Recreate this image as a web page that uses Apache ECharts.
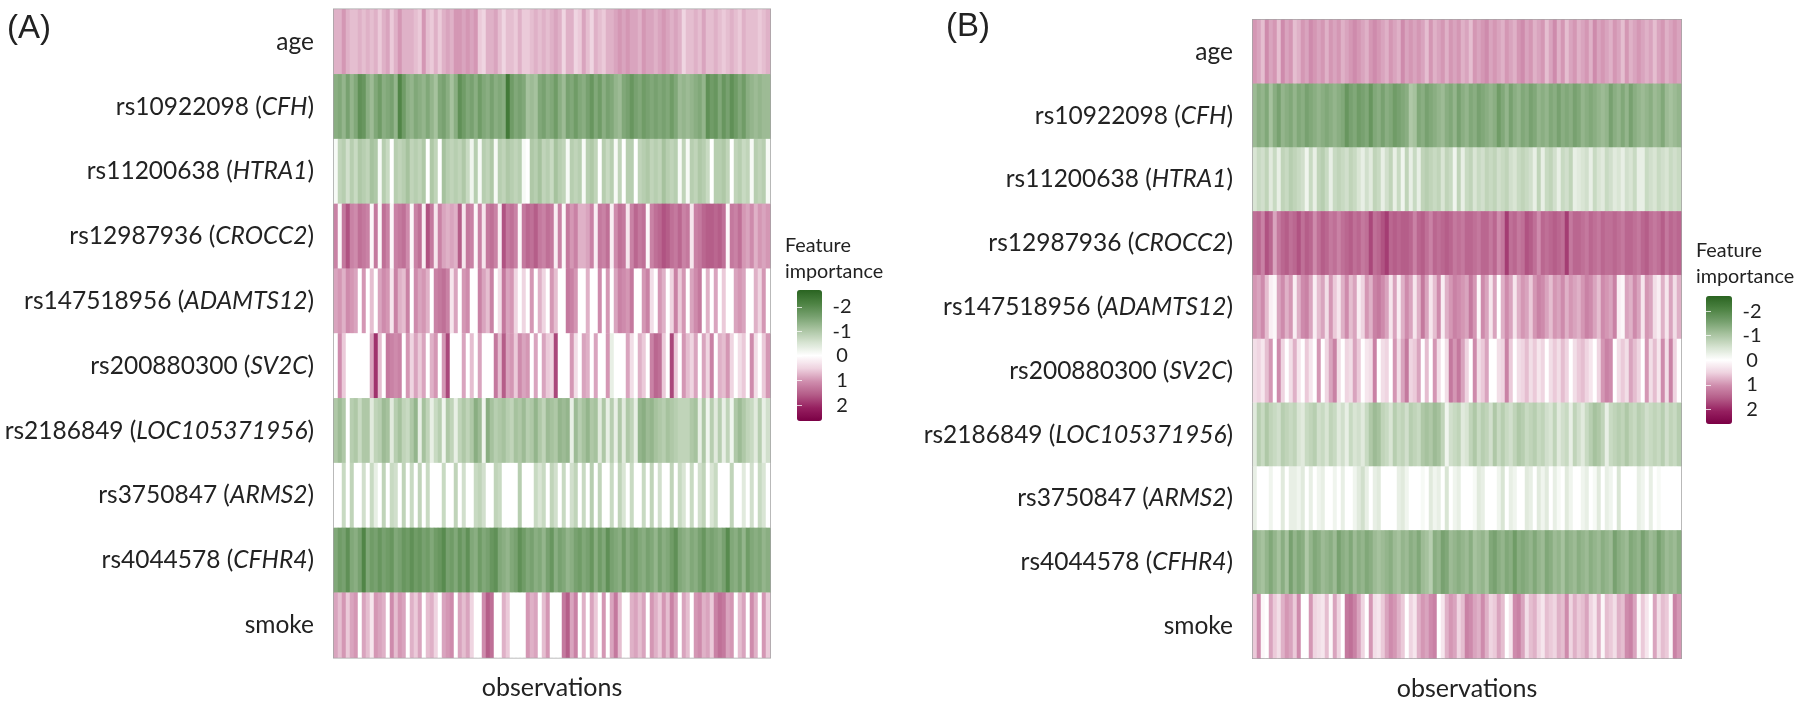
<!DOCTYPE html>
<html><head><meta charset="utf-8">
<style>html,body{margin:0;padding:0;background:#fff}#c{width:1800px;height:705px}</style>
<script src="https://cdn.jsdelivr.net/npm/echarts@6/dist/echarts.min.js"></script>
</head><body><div id="c"></div>
<script>
const features = ['age','rs10922098 (CFH)','rs11200638 (HTRA1)','rs12987936 (CROCC2)','rs147518956 (ADAMTS12)','rs200880300 (SV2C)','rs2186849 (LOC105371956)','rs3750847 (ARMS2)','rs4044578 (CFHR4)','smoke'];
const legendTicks = [-2,-1,0,1,2];
// values are feature importance x 10, one entry per observation column
const A_age = [8,8,10,8,7,7,8,7,8,7,8,6,8,9,6,8,10,8,8,8,7,6,10,7,6,8,6,8,9,8,10,10,9,10,9,10,6,5,8,8,9,7,5,7,7,6,8,6,6,7,8,7,8,7,8,9,8,5,8,8,5,6,9,7,5,8,7,6,8,8,9,10,9,10,9,9,8,10,9,9,8,9,10,9,8,9,8,5,7,7,8,7,9,7,7,8,7,6,7,8,7,6,8,7,7,7,6,7,8];
const A_CFH = [-14,-15,-13,-16,-13,-15,-19,-18,-14,-12,-15,-17,-14,-15,-16,-13,-21,-17,-14,-13,-15,-14,-13,-15,-13,-11,-15,-16,-14,-11,-14,-19,-17,-15,-16,-14,-17,-15,-14,-16,-14,-15,-14,-23,-17,-15,-16,-15,-11,-12,-11,-15,-16,-14,-15,-17,-14,-12,-16,-15,-17,-15,-14,-16,-18,-15,-17,-14,-16,-15,-13,-12,-15,-16,-18,-16,-15,-17,-16,-15,-16,-15,-16,-15,-17,-15,-12,-13,-12,-13,-14,-15,-13,-19,-17,-18,-15,-18,-16,-19,-17,-15,-17,-14,-13,-12,-13,-12,-12];
const A_HTRA1 = [-1,-8,-9,-6,-9,-7,-10,-9,-8,-11,-10,-1,-9,-7,0,-9,-8,-9,-11,-8,-9,-8,-10,0,-10,-8,0,-11,-9,-8,-9,-8,-10,-7,-2,-9,-1,-9,-8,-10,-1,-9,-8,-10,-9,-8,-9,-1,0,-10,-9,-11,-8,-9,-7,-11,-9,-8,-1,-9,-8,-9,-1,-9,-10,-8,0,-9,-7,-9,-1,-8,0,-9,-9,0,-8,-9,-10,-8,-9,-8,-11,-9,-8,-9,-1,-8,-1,-9,-8,-10,-9,-7,0,-9,-9,-10,-8,0,-8,-9,-7,-8,-1,-9,-8,-9,-1];
const A_CROCC2 = [12,1,13,17,12,11,14,13,12,1,13,1,14,12,1,12,13,14,11,1,12,14,2,17,13,3,12,9,8,9,8,16,3,13,12,1,12,3,13,14,12,2,17,13,14,12,1,13,15,14,16,13,12,14,13,2,12,1,13,10,12,8,8,9,12,2,13,12,14,2,11,14,13,3,12,15,13,14,1,12,14,15,17,16,14,13,15,12,13,3,12,13,15,16,16,15,16,14,1,13,12,14,10,9,11,8,10,9,10];
const A_ADAMTS12 = [9,10,8,11,10,9,0,10,0,7,0,9,11,10,3,12,8,7,12,0,11,9,10,8,0,12,13,14,12,3,9,0,10,11,0,0,12,9,7,12,0,4,13,9,10,5,0,5,0,10,0,8,5,0,10,7,0,0,13,12,10,0,0,8,0,0,11,0,10,0,9,12,11,10,13,0,0,10,12,4,0,10,8,0,5,12,6,10,0,9,11,13,0,8,0,9,0,6,0,0,9,10,9,0,0,8,5,10,0];
const A_SV2C = [0,11,6,0,0,0,0,0,0,9,20,7,0,13,12,11,12,0,10,5,9,6,9,0,8,10,0,10,18,0,0,0,9,0,7,0,9,0,0,0,13,7,16,9,10,6,11,9,10,0,9,0,9,6,5,18,0,0,0,10,4,0,9,8,0,9,0,0,10,-3,0,0,0,9,4,0,8,6,0,12,15,14,6,0,18,6,0,10,7,5,9,0,9,5,12,0,8,7,10,5,0,4,6,0,11,4,0,6,10];
const A_LOC = [-10,-12,-10,0,-9,-10,-7,-10,-10,-4,-8,-9,-12,-11,-4,-9,-11,-8,-7,-10,-13,-3,-11,-8,-3,-7,-9,-2,-10,-8,-3,-8,-10,-8,-10,-14,-12,-2,-14,-11,-9,-10,-11,-9,-8,-11,-10,-12,-9,-10,-13,-10,-8,-12,-11,-10,-13,-12,-13,-3,-12,-9,-11,-13,-10,-11,-4,-10,-3,-9,-3,-10,-4,-10,-8,-3,-13,-14,-12,-13,-11,-10,-9,-11,-10,-9,-8,-8,-8,-10,-11,-3,-10,-2,-9,-4,-9,-3,-8,-2,-10,-12,-10,-8,-7,-4,-9,-3,-6];
const A_ARMS2 = [0,0,-7,0,-8,0,0,-6,0,-7,-3,0,-8,0,-7,-6,0,-8,0,-7,0,-8,0,-7,0,0,0,-7,0,0,-8,0,-6,0,0,-7,-8,-6,0,0,-8,-7,0,0,0,0,-9,0,0,0,-7,-5,-7,0,-8,-6,0,-7,0,-6,-8,0,-7,0,-9,0,-8,0,0,-7,0,-8,-5,0,-7,0,0,-7,0,-8,0,-6,0,0,-8,0,-7,-5,0,-7,0,-6,-8,0,-5,-7,0,0,0,-8,0,0,-4,0,-6,0,-7,-5,0];
const A_CFHR4 = [-15,-17,-16,-19,-15,-14,-16,-21,-15,-17,-16,-18,-16,-17,-18,-15,-16,-18,-17,-19,-17,-18,-16,-17,-15,-17,-18,-20,-16,-17,-15,-18,-16,-19,-15,-14,-17,-15,-16,-18,-19,-15,-14,-13,-15,-16,-19,-17,-15,-16,-14,-15,-13,-16,-18,-14,-16,-15,-13,-14,-16,-17,-15,-16,-18,-14,-17,-15,-19,-16,-15,-14,-17,-14,-16,-17,-15,-14,-16,-15,-13,-16,-14,-15,-17,-19,-15,-14,-13,-15,-14,-16,-18,-15,-16,-15,-14,-16,-20,-15,-14,-16,-13,-17,-15,-14,-15,-13,-14];
const A_smoke = [9,7,10,6,9,10,0,9,7,3,10,9,8,0,11,7,10,9,0,8,6,9,0,7,8,5,0,9,10,11,0,9,7,9,5,0,0,11,16,14,0,0,8,6,0,0,0,0,10,8,9,0,7,10,0,0,0,13,16,9,12,0,8,0,9,6,0,10,0,9,13,7,0,0,8,9,7,9,0,10,8,6,10,7,12,9,0,9,7,0,10,11,8,9,6,12,14,13,9,10,0,7,9,0,11,8,0,10,6];

const B_age = [10,9,7,11,9,10,7,11,9,10,7,8,10,9,11,10,9,10,8,10,9,10,8,9,10,11,10,9,8,10,11,10,9,8,10,9,8,11,9,10,9,10,9,7,10,8,9,10,8,10,9,10,8,9,7,10,9,10,11,9,10,9,8,10,9,8,10,11,9,10,8,9,10,7,9,11,8,10,7,9,10,8,9,10,8,11,9,10,9,8,10,9,7,10,8,9,10,9,8,9,7,9,10,8,9,10,9];
const B_CFH = [-12,-14,-13,-15,-11,-14,-16,-13,-14,-15,-13,-15,-14,-16,-15,-14,-13,-14,-15,-14,-13,-14,-15,-18,-16,-15,-17,-16,-15,-18,-15,-14,-16,-14,-15,-17,-16,-15,-14,-10,-11,-15,-14,-16,-15,-14,-13,-12,-14,-15,-13,-16,-14,-13,-15,-14,-16,-15,-14,-13,-14,-17,-15,-13,-16,-14,-13,-15,-14,-16,-15,-13,-14,-13,-15,-14,-16,-14,-15,-14,-16,-15,-13,-14,-15,-14,-13,-12,-13,-16,-14,-13,-15,-13,-16,-14,-13,-12,-13,-14,-12,-13,-15,-12,-11,-12,-13];
const B_HTRA1 = [-5,-7,-6,-8,-4,-7,-3,-8,-7,-9,-8,-7,-6,-2,-7,-3,-8,-9,-7,-3,-7,-8,-7,-6,-8,-7,-5,-3,-6,-4,-8,-7,-3,-6,-8,-3,-7,-2,-8,-3,-7,-3,-8,-9,-8,-7,-8,-5,-8,-7,-2,-8,-3,-7,-8,-5,-7,-6,-8,-7,-8,-6,-7,-8,-6,-5,-7,-8,-7,-6,-3,-8,-3,-7,-8,-6,-3,-7,-6,-8,-3,-4,-5,-6,-3,-7,-5,-4,-7,-6,-4,-5,-3,-6,-5,-7,-3,-3,-7,-6,-5,-7,-6,-5,-7,-6,-7];
const B_CROCC2 = [14,15,12,17,15,9,13,15,16,14,15,17,14,16,15,11,14,16,15,13,14,12,14,15,16,14,15,13,14,18,14,15,17,19,15,16,15,16,16,15,12,15,16,14,12,15,14,15,16,15,13,14,13,15,15,14,13,15,15,13,15,11,13,19,14,15,13,14,17,16,14,11,15,14,15,16,15,14,19,13,15,15,14,13,15,14,13,15,14,14,15,14,13,15,15,14,13,15,16,14,13,14,16,13,15,14,15];
const B_ADAMTS12 = [10,9,11,7,2,1,9,11,8,10,2,8,11,12,9,2,7,9,4,10,6,3,8,11,7,9,2,5,10,8,12,13,11,9,3,9,2,8,11,9,3,8,13,9,3,7,11,2,8,10,12,11,10,9,13,10,1,11,9,3,9,0,8,11,9,3,8,10,9,6,10,12,11,9,7,10,9,11,8,10,9,8,10,12,11,9,7,11,10,9,12,2,1,9,8,11,9,3,10,9,4,2,8,3,9,4,8];
const B_SV2C = [4,5,3,7,10,0,11,5,0,4,8,3,0,6,3,0,10,0,5,9,12,4,0,5,4,9,6,0,3,4,12,0,4,5,0,10,4,9,13,5,6,9,0,7,0,10,4,0,4,13,10,13,9,5,0,11,4,6,9,0,0,4,5,12,6,0,4,5,7,4,6,3,5,0,4,6,4,7,5,0,4,6,7,5,3,0,5,10,12,11,0,4,6,4,9,7,5,0,10,4,7,3,11,4,12,5,0];
const B_LOC = [-4,-9,-7,-10,-8,-7,-6,-9,-8,-7,-8,-5,-4,-7,-8,-9,-6,-7,-5,-8,-7,-4,-6,-3,-7,-5,-6,-4,-7,-10,-12,-11,-8,-7,-5,-9,-7,-8,-6,-9,-8,-7,-10,-11,-10,-12,-11,-8,-2,-6,-7,-8,-4,-5,-8,-10,-7,-9,-8,-6,-10,-7,-9,-7,-6,-8,-10,-9,-7,-8,-9,-7,-8,-6,-5,-8,-4,-6,-7,-3,-8,-6,-4,-7,-9,-11,-10,-8,-3,-7,-8,-9,-8,-10,-8,-7,-9,-8,-6,-7,-8,-7,-9,-6,-8,-7,-9];
const B_ARMS2 = [-3,0,0,0,-2,0,0,-4,0,-3,-3,-2,-4,0,-3,0,-2,-3,0,0,-2,0,-3,0,0,-2,-4,-6,-3,0,-3,-4,0,0,0,0,-3,-4,-2,0,0,0,-1,0,-4,-2,-3,0,-5,0,-2,-3,0,0,0,-1,-4,-3,0,0,0,-2,-5,0,-3,-2,0,0,-4,-3,0,-4,-2,-4,0,-3,-1,0,-4,-2,0,0,-2,-3,0,-1,-4,0,-3,-2,0,-5,0,0,0,0,-3,-2,0,-3,0,-1,0,0,0,0,0];
const B_CFHR4 = [-14,-12,-11,-13,-15,-13,-11,-14,-11,-16,-13,-15,-14,-10,-13,-15,-14,-12,-13,-14,-12,-16,-14,-13,-15,-12,-14,-13,-15,-14,-12,-11,-12,-13,-14,-12,-11,-13,-12,-14,-13,-15,-12,-11,-9,-14,-13,-16,-15,-12,-13,-14,-13,-12,-14,-11,-12,-13,-11,-15,-16,-14,-13,-15,-14,-17,-14,-15,-14,-13,-15,-13,-12,-15,-14,-12,-13,-11,-14,-13,-12,-14,-13,-12,-14,-13,-12,-14,-13,-12,-16,-14,-13,-12,-15,-14,-13,-16,-14,-12,-13,-16,-14,-12,-13,-12,-14];
const B_smoke = [6,11,1,0,9,6,4,8,10,9,6,11,0,0,10,5,4,3,7,1,9,5,0,13,14,12,9,5,0,10,4,3,6,9,11,10,8,6,0,5,3,8,10,9,11,12,0,3,8,10,9,5,7,12,11,9,8,11,8,5,6,9,7,0,3,11,12,9,4,7,8,5,3,7,6,5,8,7,11,5,8,6,7,9,5,3,8,1,7,6,4,8,7,11,12,9,1,6,3,0,9,4,7,6,1,12,10];

const rowsA = [A_age,A_CFH,A_HTRA1,A_CROCC2,A_ADAMTS12,A_SV2C,A_LOC,A_ARMS2,A_CFHR4,A_smoke];
const rowsB = [B_age,B_CFH,B_HTRA1,B_CROCC2,B_ADAMTS12,B_SV2C,B_LOC,B_ARMS2,B_CFHR4,B_smoke];
const ramp = ['#2a6421','#4c8242','#76a06e','#a8c3a0','#d6e3d1','#ffffff','#eed2df','#cf8dad','#b45c88','#962060','#7b0045'];
const FONT = 'Lato', INK = '#222';

function cells(rows){const out=[];rows.forEach((r,y)=>r.forEach((v,x)=>out.push([x,y,v/10])));return out;}
const panels = [
 {rows:rowsA,grid:{left:334,top:9.5,width:436,height:648},bar:{left:797,top:290,width:25,height:131},ext:[-2.69,2.65]},
 {rows:rowsB,grid:{left:1253,top:20,width:428,height:638},bar:{left:1706,top:296,width:26,height:128},ext:[-2.62,2.6]}
];
const grid=[],xAxis=[],yAxis=[],series=[],visualMap=[];
panels.forEach((p,i)=>{
  const g=grid.length;
  grid.push({...p.grid,outerBoundsMode:'none',containLabel:false,show:true,borderColor:'#a3a3a3',borderWidth:2,backgroundColor:'#fff'});
  xAxis.push({type:'category',gridIndex:g,data:p.rows[0].map((_,k)=>k),axisLine:{show:false},axisTick:{show:false},axisLabel:{show:false},splitLine:{show:false},
    name:'observations',nameLocation:'middle',nameGap:18,nameTextStyle:{fontFamily:FONT,fontSize:25,color:INK}});
  yAxis.push({type:'category',gridIndex:g,inverse:true,data:features,axisLine:{show:false},axisTick:{show:false},splitLine:{show:false},
    axisLabel:{margin:20,fontFamily:FONT,fontSize:24.5,color:INK,interval:0,
      formatter:v=>v.replace(/\((.+)\)/,'({it|$1})'),
      rich:{it:{fontFamily:FONT,fontSize:24.5,fontStyle:'italic',color:INK}}}});
  series.push({type:'heatmap',xAxisIndex:g,yAxisIndex:g,data:cells(p.rows),progressive:0,animation:false,emphasis:{disabled:true},itemStyle:{borderWidth:0}});
  visualMap.push({type:'continuous',seriesIndex:i,min:-2.7,max:2.7,inverse:true,calculable:false,realtime:false,hoverLink:false,
    left:p.bar.left,top:p.bar.top,itemWidth:p.bar.width,itemHeight:p.bar.height,padding:0,text:null,showLabel:false,
    inRange:{color:ramp},textStyle:{fontSize:0}});
});
panels.forEach(p=>{
  const g=grid.length;
  grid.push({...p.bar,outerBoundsMode:'none',containLabel:false,show:false,z:10});
  xAxis.push({type:'value',gridIndex:g,min:0,max:1,show:false});
  const tick={show:true,inside:true,length:5,customValues:legendTicks,lineStyle:{color:'rgba(255,255,255,0.75)',width:1}};
  yAxis.push({type:'value',gridIndex:g,inverse:true,min:p.ext[0],max:p.ext[1],position:'right',z:10,splitLine:{show:false},axisLine:{show:false},axisTick:tick,
    axisLabel:{margin:20,customValues:legendTicks,fontFamily:FONT,fontSize:20,color:INK,align:'center',formatter:v=>String(v)}});
  yAxis.push({type:'value',gridIndex:g,inverse:true,min:p.ext[0],max:p.ext[1],position:'left',z:10,splitLine:{show:false},axisLine:{show:false},axisTick:tick,axisLabel:{show:false}});
});
const title=[
 {text:'(A)',left:7,top:12,textStyle:{fontFamily:'Liberation Sans',fontSize:33,fontWeight:'normal',color:INK},padding:0},
 {text:'(B)',left:946,top:10,textStyle:{fontFamily:'Liberation Sans',fontSize:33,fontWeight:'normal',color:INK},padding:0},
 {text:'Feature\nimportance',left:785,top:233,textStyle:{fontFamily:FONT,fontSize:19.8,lineHeight:26,fontWeight:'normal',color:INK},padding:0},
 {text:'Feature\nimportance',left:1696,top:238,textStyle:{fontFamily:FONT,fontSize:19.8,lineHeight:26,fontWeight:'normal',color:INK},padding:0}
];
const chart=echarts.init(document.getElementById('c'),null,{renderer:'canvas'});
chart.setOption({animation:false,backgroundColor:'#fff',title,grid,xAxis,yAxis,series,visualMap,tooltip:{show:false}});
</script></body></html>
